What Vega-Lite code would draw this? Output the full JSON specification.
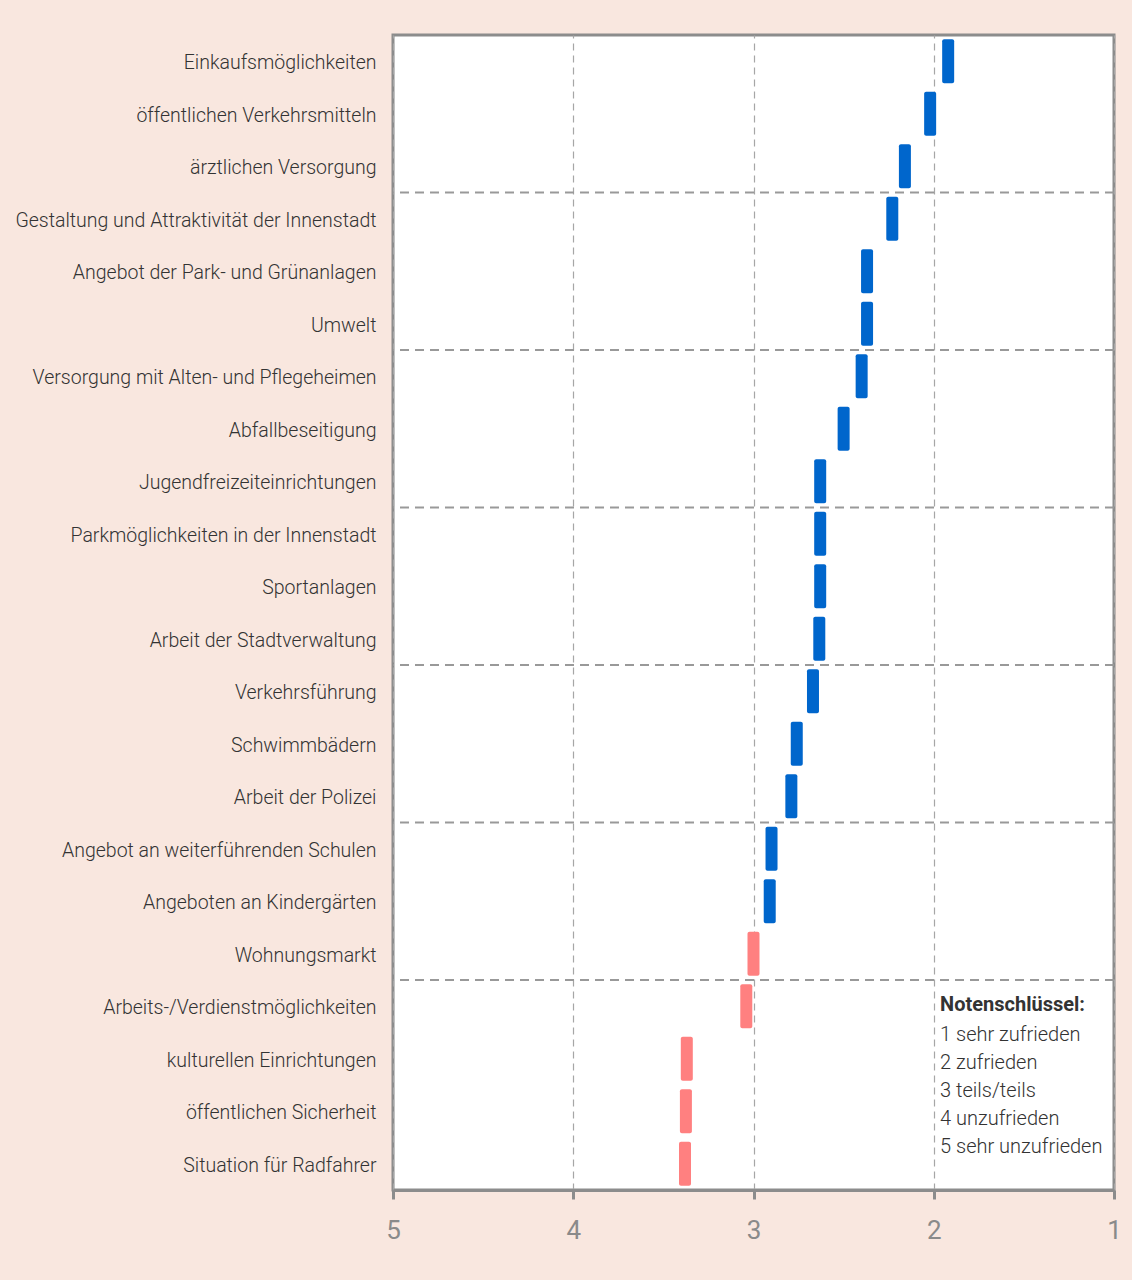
{
  "$schema": "https://vega.github.io/schema/vega-lite/v6.json",
  "autosize": {"type": "none"},
  "width": 721,
  "height": 1155,
  "padding": {"left": 393, "top": 35, "right": 18, "bottom": 90},
  "background": "#f9e7df",
  "config": {
    "view": {"fill": "#ffffff", "stroke": "#8c8c8c", "strokeWidth": 3},
    "font": "Roboto"
  },
  "encoding": {
    "y": {
      "field": "name",
      "type": "nominal",
      "sort": null,
      "scale": {
        "domain": [
          "Einkaufsmöglichkeiten",
          "öffentlichen Verkehrsmitteln",
          "ärztlichen Versorgung",
          "Gestaltung und Attraktivität der Innenstadt",
          "Angebot der Park- und Grünanlagen",
          "Umwelt",
          "Versorgung mit Alten- und Pflegeheimen",
          "Abfallbeseitigung",
          "Jugendfreizeiteinrichtungen",
          "Parkmöglichkeiten in der Innenstadt",
          "Sportanlagen",
          "Arbeit der Stadtverwaltung",
          "Verkehrsführung",
          "Schwimmbädern",
          "Arbeit der Polizei",
          "Angebot an weiterführenden Schulen",
          "Angeboten an Kindergärten",
          "Wohnungsmarkt",
          "Arbeits-/Verdienstmöglichkeiten",
          "kulturellen Einrichtungen",
          "öffentlichen Sicherheit",
          "Situation für Radfahrer"
        ],
        "paddingInner": 0,
        "paddingOuter": 0
      },
      "axis": {
        "title": null,
        "domain": false,
        "ticks": false,
        "grid": false,
        "labelPadding": 17,
        "labelOffset": 2,
        "labelFontSize": 19.5,
        "labelFontWeight": 300,
        "labelColor": "#333333",
        "labelFont": "Roboto",
        "labelLimit": 400
      }
    }
  },
  "layer": [
    {
      "data": {"values": [
        {"name": "Gestaltung und Attraktivität der Innenstadt"},
        {"name": "Versorgung mit Alten- und Pflegeheimen"},
        {"name": "Parkmöglichkeiten in der Innenstadt"},
        {"name": "Verkehrsführung"},
        {"name": "Angebot an weiterführenden Schulen"},
        {"name": "Arbeits-/Verdienstmöglichkeiten"}
      ]},
      "mark": {"type": "rule", "color": "#999999", "strokeWidth": 2.2, "strokeDash": [9, 6]},
      "encoding": {
        "y": {"field": "name", "type": "nominal", "sort": null, "bandPosition": 0}
      }
    },
    {
      "data": {"values": [
        {"name": "Einkaufsmöglichkeiten", "value": 1.92, "grp": "gut"},
        {"name": "öffentlichen Verkehrsmitteln", "value": 2.02, "grp": "gut"},
        {"name": "ärztlichen Versorgung", "value": 2.16, "grp": "gut"},
        {"name": "Gestaltung und Attraktivität der Innenstadt", "value": 2.23, "grp": "gut"},
        {"name": "Angebot der Park- und Grünanlagen", "value": 2.37, "grp": "gut"},
        {"name": "Umwelt", "value": 2.37, "grp": "gut"},
        {"name": "Versorgung mit Alten- und Pflegeheimen", "value": 2.4, "grp": "gut"},
        {"name": "Abfallbeseitigung", "value": 2.5, "grp": "gut"},
        {"name": "Jugendfreizeiteinrichtungen", "value": 2.63, "grp": "gut"},
        {"name": "Parkmöglichkeiten in der Innenstadt", "value": 2.63, "grp": "gut"},
        {"name": "Sportanlagen", "value": 2.63, "grp": "gut"},
        {"name": "Arbeit der Stadtverwaltung", "value": 2.635, "grp": "gut"},
        {"name": "Verkehrsführung", "value": 2.67, "grp": "gut"},
        {"name": "Schwimmbädern", "value": 2.76, "grp": "gut"},
        {"name": "Arbeit der Polizei", "value": 2.79, "grp": "gut"},
        {"name": "Angebot an weiterführenden Schulen", "value": 2.9, "grp": "gut"},
        {"name": "Angeboten an Kindergärten", "value": 2.91, "grp": "gut"},
        {"name": "Wohnungsmarkt", "value": 3.0, "grp": "schlecht"},
        {"name": "Arbeits-/Verdienstmöglichkeiten", "value": 3.04, "grp": "schlecht"},
        {"name": "kulturellen Einrichtungen", "value": 3.37, "grp": "schlecht"},
        {"name": "öffentlichen Sicherheit", "value": 3.375, "grp": "schlecht"},
        {"name": "Situation für Radfahrer", "value": 3.38, "grp": "schlecht"}
      ]},
      "mark": {"type": "tick", "orient": "vertical", "thickness": 12, "size": 44, "cornerRadius": 2, "opacity": 1},
      "encoding": {
        "x": {
          "field": "value",
          "type": "quantitative",
          "scale": {"domain": [1, 5], "reverse": true, "nice": false, "zero": false},
          "axis": {
            "title": null,
            "values": [5, 4, 3, 2, 1],
            "format": "d",
            "grid": true,
            "gridColor": "#a6a6a6",
            "gridDash": [7, 5],
            "gridWidth": 1.2,
            "domain": true,
            "domainColor": "#8c8c8c",
            "domainWidth": 3,
            "ticks": true,
            "tickColor": "#8c8c8c",
            "tickWidth": 3,
            "tickSize": 9,
            "labelPadding": 18,
            "labelFontSize": 26,
            "labelColor": "#8a8a8a",
            "labelFont": "Roboto",
            "labelFlush": false
          }
        },
        "color": {
          "field": "grp",
          "type": "nominal",
          "scale": {"domain": ["gut", "schlecht"], "range": ["#0066cc", "#ff8080"]},
          "legend": null
        }
      }
    },
    {
      "data": {"values": [
        {"name": "Arbeits-/Verdienstmöglichkeiten", "value": 1.965, "t": "Notenschlüssel:"}
      ]},
      "mark": {"type": "text", "align": "left", "baseline": "middle", "fontSize": 20, "fontWeight": "bold", "color": "#333333", "dy": -1, "font": "Roboto"},
      "encoding": {
        "x": {"field": "value", "type": "quantitative"},
        "text": {"field": "t", "type": "nominal"}
      }
    },
    {
      "data": {"values": [
        {"name": "Arbeits-/Verdienstmöglichkeiten", "value": 1.965, "t": "1 sehr zufrieden\n2 zufrieden\n3 teils/teils\n4 unzufrieden\n5 sehr unzufrieden"}
      ]},
      "mark": {"type": "text", "align": "left", "baseline": "middle", "fontSize": 20, "fontWeight": 300, "color": "#333333", "lineBreak": "\n", "lineHeight": 28, "dy": 29, "font": "Roboto"},
      "encoding": {
        "x": {"field": "value", "type": "quantitative"},
        "text": {"field": "t", "type": "nominal"}
      }
    }
  ]
}
